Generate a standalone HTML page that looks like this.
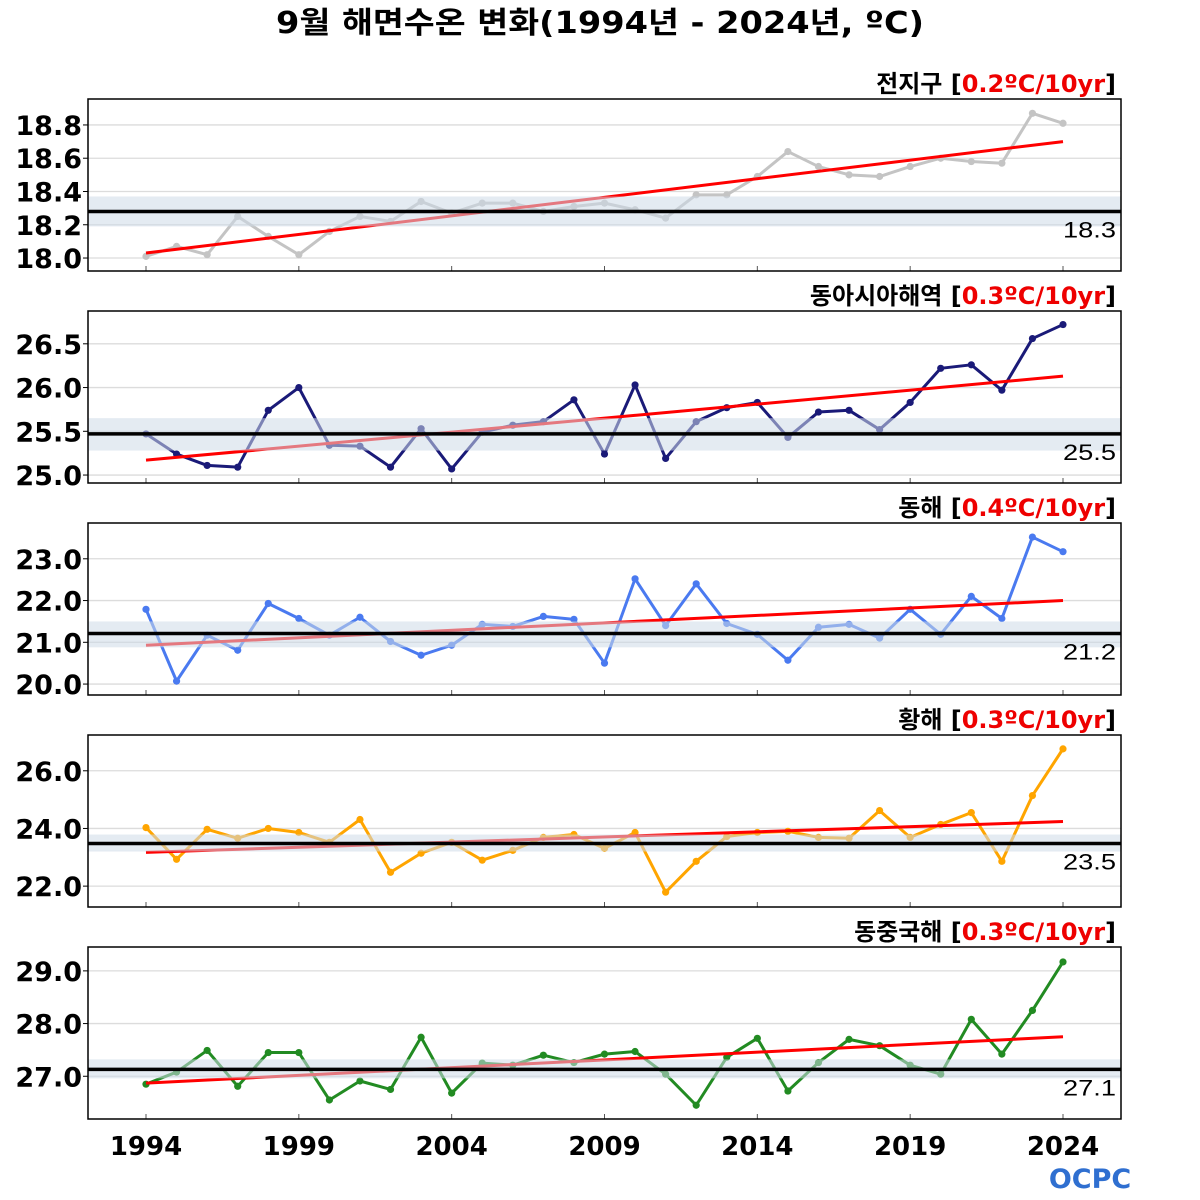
<!DOCTYPE html>
<html><head><meta charset="utf-8">
<style>
html,body{margin:0;padding:0;background:#fff;}
svg{display:block;font-family:"DejaVu Sans","Noto Sans CJK KR",sans-serif;}
</style></head>
<body>
<svg id="chart" width="1200" height="1200" viewBox="0 0 1200 1200">
<text x="600" y="33" text-anchor="middle" font-size="30" font-weight="bold" textLength="648" lengthAdjust="spacingAndGlyphs">9월 해면수온 변화(1994년 - 2024년, ºC)</text>
<g id="panels"></g>
<g>
<text x="1090" y="1188" text-anchor="middle" font-size="27" font-weight="bold" fill="#2f6fd0">OCPC</text>
</g>
</svg>
<script>
const years = [];
for (let y = 1994; y <= 2024; y++) years.push(y);
const xTickYears = [1994, 1999, 2004, 2009, 2014, 2019, 2024];

const globalValues = [18.01,18.07,18.02,18.25,18.13,18.02,18.16,18.25,18.22,18.34,18.27,18.33,18.33,18.28,18.31,18.33,18.29,18.24,18.38,18.38,18.49,18.64,18.55,18.50,18.49,18.55,18.60,18.58,18.57,18.87,18.81];
const eastAsiaValues = [25.47,25.24,25.11,25.09,25.74,26.00,25.34,25.33,25.09,25.53,25.07,25.49,25.57,25.61,25.86,25.24,26.03,25.19,25.61,25.77,25.83,25.43,25.72,25.74,25.52,25.83,26.22,26.26,25.97,26.56,26.72];
const eastSeaValues = [21.79,20.07,21.17,20.81,21.93,21.57,21.17,21.60,21.02,20.69,20.93,21.43,21.38,21.62,21.55,20.50,22.52,21.40,22.40,21.45,21.19,20.57,21.36,21.43,21.10,21.79,21.19,22.10,21.57,23.52,23.17];
const yellowSeaValues = [24.03,22.93,23.97,23.66,24.00,23.86,23.52,24.31,22.48,23.14,23.52,22.90,23.24,23.69,23.79,23.31,23.86,21.79,22.86,23.72,23.86,23.90,23.69,23.66,24.62,23.69,24.14,24.55,22.86,25.14,26.76];
const eastChinaSeaValues = [26.85,27.08,27.49,26.81,27.45,27.45,26.55,26.91,26.75,27.74,26.68,27.25,27.21,27.40,27.26,27.42,27.47,27.04,26.45,27.36,27.72,26.72,27.26,27.70,27.58,27.21,27.04,28.08,27.42,28.25,29.17];

const panelNames = ["전지구","동아시아해역","동해","황해","동중국해"];
const panelSlugs = ["global","east-asia","east-sea","yellow-sea","east-china-sea"];
const trendLabels = ["0.2ºC/10yr","0.3ºC/10yr","0.4ºC/10yr","0.3ºC/10yr","0.3ºC/10yr"];
const seriesValues = [globalValues, eastAsiaValues, eastSeaValues, yellowSeaValues, eastChinaSeaValues];
const baselineValues = [18.28, 25.47, 21.21, 23.48, 27.13];
const baselineLabels = ["18.3","25.5","21.2","23.5","27.1"];
const bandLow = [18.19, 25.28, 20.88, 23.20, 26.96];
const bandHigh = [18.37, 25.65, 21.50, 23.79, 27.32];
const trendStart = [18.03, 25.17, 20.93, 23.17, 26.87];
const trendEnd = [18.70, 26.13, 22.00, 24.24, 27.75];
const yTicks = [[18.0,18.2,18.4,18.6,18.8],[25.0,25.5,26.0,26.5],[20.0,21.0,22.0,23.0],[22.0,24.0,26.0],[27.0,28.0,29.0]];
const yTickLabels = [["18.0","18.2","18.4","18.6","18.8"],["25.0","25.5","26.0","26.5"],["20.0","21.0","22.0","23.0"],["22.0","24.0","26.0"],["27.0","28.0","29.0"]];
const yDomains = [[17.922,18.956],[24.909,26.875],[19.738,23.857],[21.276,27.241],[26.189,29.453]];

const colors = ["#c4c4c4","#1a1a78","#4a7af0","#ffa500","#228b22"];
const PX0 = 88, PX1 = 1121;
const panelTops = [99,311,523,735,947];
const PH = 172;
const NS = "http://www.w3.org/2000/svg";
const root = document.getElementById("panels");

function mk(tag, attrs, parent) {
  const e = document.createElementNS(NS, tag);
  for (const k in attrs) e.setAttribute(k, attrs[k]);
  parent.appendChild(e);
  return e;
}
function xScale(yr) { return 146 + (yr - 1994) * (1063 - 146) / 30; }

for (let p = 0; p < 5; p++) {
  const top = panelTops[p], bot = top + PH;
  const [lo, hi] = yDomains[p];
  const ys = v => bot - (v - lo) / (hi - lo) * PH;
  const g = mk("g", {}, root);
  
  

  yTicks[p].forEach((t, i) => {
    const y = ys(t);
    const gl = mk("line", {x1:PX0, x2:PX1, y1:y, y2:y, stroke:"#dcdcdc", "stroke-width":1.3}, g);
    
    
    mk("line", {x1:PX0-5, x2:PX0, y1:y, y2:y, stroke:"#000", "stroke-width":1}, g);
    const tl = mk("text", {x:82, y:y+10, "text-anchor":"end", "font-size":27, "font-weight":"bold"}, g);
    tl.textContent = yTickLabels[p][i];
    
    
  });
  xTickYears.forEach(yr => {
    mk("line", {x1:xScale(yr), x2:xScale(yr), y1:bot-5, y2:bot, stroke:"#555", "stroke-width":1}, g);
  });

  const vals = seriesValues[p];
  const pts = years.map((yr, i) => xScale(yr) + "," + ys(vals[i])).join(" ");
  const line = mk("polyline", {points:pts, fill:"none", stroke:colors[p], "stroke-width":3, "stroke-linejoin":"round"}, g);
  
  
  years.forEach((yr, i) => {
    const c = mk("circle", {cx:xScale(yr), cy:ys(vals[i]), r:3.6, fill:colors[p]}, g);
    
    
  });

  const tr = mk("line", {x1:xScale(1994), x2:xScale(2024), y1:ys(trendStart[p]), y2:ys(trendEnd[p]), stroke:"#ff0000", "stroke-width":3}, g);
  
  

  const band = mk("rect", {x:PX0, y:ys(bandHigh[p]), width:PX1-PX0, height:ys(bandLow[p])-ys(bandHigh[p]), fill:"rgba(205,218,232,0.55)"}, g);
  
  

  const bl = mk("line", {x1:PX0, x2:PX1, y1:ys(baselineValues[p]), y2:ys(baselineValues[p]), stroke:"#000", "stroke-width":3.5}, g);
  
  
  const blt = mk("text", {x:1116, y:ys(baselineValues[p])+26, "text-anchor":"end", "font-size":22, "font-family":"Liberation Sans Narrow, Liberation Sans, sans-serif", "textLength":53, "lengthAdjust":"spacingAndGlyphs"}, g);
  blt.textContent = baselineLabels[p];
  
  

  const fr = mk("rect", {x:PX0, y:top, width:PX1-PX0, height:PH, fill:"none", stroke:"#000", "stroke-width":1.5}, g);
  
  

  const tt = mk("text", {x:1116, y:top-7, "text-anchor":"end", "font-size":24, "font-weight":"bold"}, g);
  
  
  const s1 = mk("tspan", {}, tt); s1.textContent = panelNames[p] + " [";
  const s2 = mk("tspan", {fill:"#ee0000"}, tt); s2.textContent = trendLabels[p];
  const s3 = mk("tspan", {}, tt); s3.textContent = "]";
}

xTickYears.forEach(yr => {
  const t = mk("text", {x:xScale(yr), y:1155, "text-anchor":"middle", "font-size":26, "font-weight":"bold"}, root);
  t.textContent = yr;
  
  
});
</script>
</body></html>
